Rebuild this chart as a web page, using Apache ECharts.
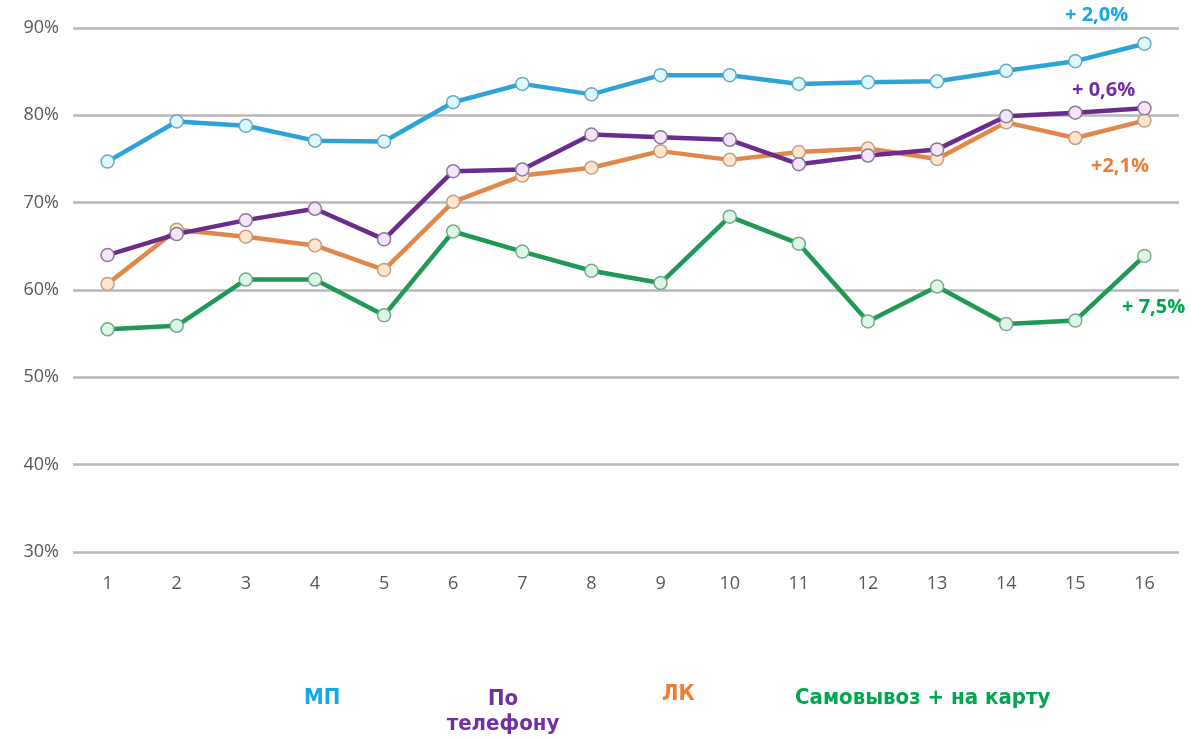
<!DOCTYPE html>
<html><head><meta charset="utf-8">
<script src="https://cdn.jsdelivr.net/npm/echarts@6/dist/echarts.min.js"></script>
<style>html,body{margin:0;padding:0;background:#fff}#c{width:1191px;height:739px}</style>
</head><body><div id="c"></div>
<script>
const categories = ['1','2','3','4','5','6','7','8','9','10','11','12','13','14','15','16'];
const mp = [74.7,79.3,78.8,77.1,77.0,81.5,83.6,82.4,84.6,84.6,83.6,83.8,83.9,85.1,86.2,88.2];
const phone = [64.0,66.4,68.0,69.3,65.8,73.6,73.8,77.8,77.5,77.2,74.4,75.4,76.1,79.9,80.3,80.8];
const lk = [60.7,66.9,66.1,65.1,62.3,70.1,73.1,74.0,75.9,74.9,75.8,76.2,75.0,79.2,77.4,79.4];
const pickup = [55.5,55.9,61.2,61.2,57.1,66.7,64.4,62.2,60.8,68.4,65.3,56.4,60.4,56.1,56.5,63.9];
const yTicks = [30,40,50,60,70,80,90];
const names = ['МП','По телефону','ЛК','Самовывоз + на карту'];
const deltas = ['+ 2,0%','+ 0,6%','+2,1%','+ 7,5%'];

const lineColors = ['#2ea3d6','#6a2d8e','#e2874a','#1f9955'];
const fillColors = ['#def9fc','#f4e6f8','#fde6cc','#dcf7e8'];
const borderColors = ['#6aa9bf','#8e7a9c','#c2a184','#7aa98e'];
const textColors = ['#12a9e8','#7030a0','#ed7d31','#00a650'];

const data = [mp, phone, lk, pickup];
const chart = echarts.init(document.getElementById('c'));
const legendFont = "'Liberation Sans Narrow','DejaVu Sans Condensed','Liberation Sans',sans-serif";
const noteFont = "bold 20px 'Open Sans',sans-serif";
chart.setOption({
  animation:false,
  grid:{left:73,right:12,top:28,bottom:187},
  xAxis:{type:'category',data:categories,boundaryGap:true,
    axisLine:{show:false},axisTick:{show:false},
    axisLabel:{color:'#595959',fontSize:18,margin:23,fontFamily:"'Open Sans',sans-serif"}},
  yAxis:{type:'value',min:yTicks[0],max:yTicks[yTicks.length-1],interval:10,
    axisLine:{show:false},axisTick:{show:false},
    axisLabel:{color:'#595959',fontSize:18,margin:14,formatter:v=>v+'%',fontFamily:"'Open Sans',sans-serif"},
    splitLine:{lineStyle:{color:'#b8b8b8',width:2.5}}},
  series:data.map((d,i)=>({
    name:names[i],type:'line',data:d,symbol:'circle',symbolSize:13,
    lineStyle:{color:lineColors[i],width:4.5},
    itemStyle:{color:fillColors[i],borderColor:borderColors[i],borderWidth:1.5},
    z:10-i
  })),
  graphic:[
    {type:'text',x:1065,y:15,style:{text:deltas[0],fill:textColors[0],font:noteFont,verticalAlign:'middle'}},
    {type:'text',x:1072,y:90,style:{text:deltas[1],fill:textColors[1],font:noteFont,verticalAlign:'middle'}},
    {type:'text',x:1091,y:166,style:{text:deltas[2],fill:textColors[2],font:noteFont,verticalAlign:'middle'}},
    {type:'text',x:1122,y:307,style:{text:deltas[3],fill:textColors[3],font:noteFont,verticalAlign:'middle'}},
    {type:'text',left:304,top:687,style:{text:names[0],fill:textColors[0],font:"bold 22px "+legendFont}},
    {type:'text',x:503,y:687,style:{text:'По\nтелефону',fill:textColors[1],align:'center',verticalAlign:'top',lineHeight:25,font:"bold 22px "+legendFont}},
    {type:'text',left:662,top:683,style:{text:names[2],fill:textColors[2],font:"bold 22px "+legendFont}},
    {type:'text',left:795,top:687,style:{text:names[3],fill:textColors[3],font:"bold 22px "+legendFont}}
  ]
});
</script></body></html>
